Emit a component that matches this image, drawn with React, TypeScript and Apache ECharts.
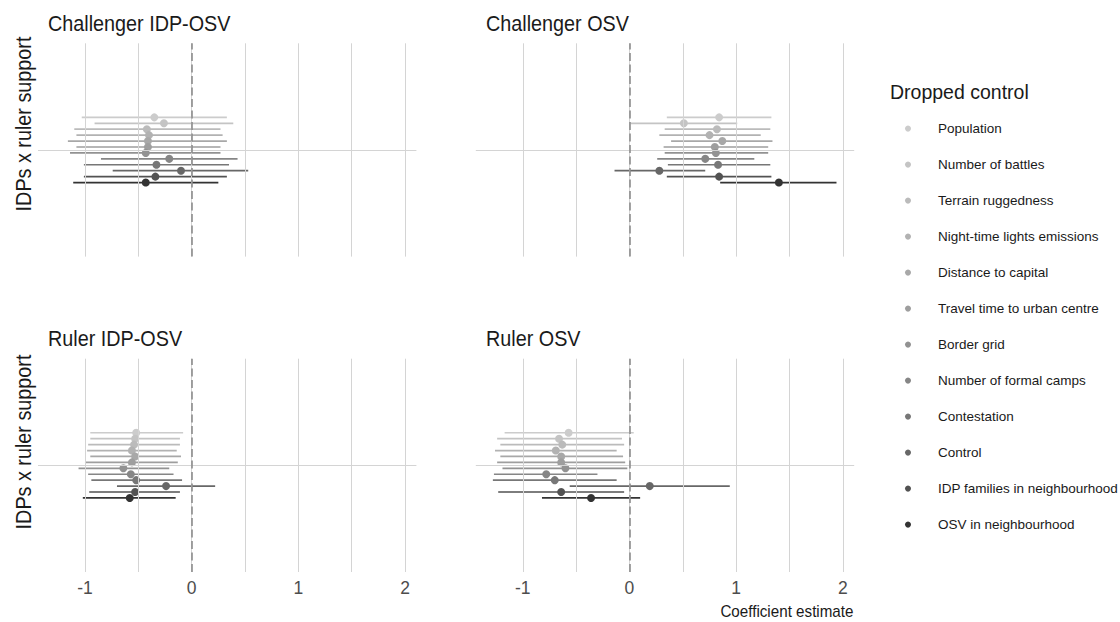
import React, { useEffect, useRef } from "react";
import * as echarts from "echarts";

// Dropped control variables, ordered top to bottom within each panel
const CONTROLS = [
  "Population",
  "Number of battles",
  "Terrain ruggedness",
  "Night-time lights emissions",
  "Distance to capital",
  "Travel time to urban centre",
  "Border grid",
  "Number of formal camps",
  "Contestation",
  "Control",
  "IDP families in neighbourhood",
  "OSV in neighbourhood",
];

// Grey ramp, light to dark
const GREYS = [
  "#cccccc", "#c4c4c4", "#bbbbbb", "#b2b2b2", "#a8a8a8", "#9e9e9e",
  "#929292", "#868686", "#777777", "#676767", "#525252", "#333333",
];

const PANEL_TITLES = ["Challenger IDP-OSV", "Challenger OSV", "Ruler IDP-OSV", "Ruler OSV"];
const Y_CATEGORY = "IDPs x ruler support";
const X_TITLE = "Coefficient estimate";
const LEGEND_TITLE = "Dropped control";

// Challenger IDP-OSV
const chIdpEst = [-0.35, -0.26, -0.42, -0.40, -0.41, -0.41, -0.43, -0.21, -0.33, -0.10, -0.34, -0.43];
const chIdpLo = [-1.03, -0.91, -1.10, -1.08, -1.16, -1.08, -1.14, -0.85, -1.01, -0.74, -1.01, -1.11];
const chIdpHi = [0.33, 0.39, 0.27, 0.29, 0.33, 0.27, 0.27, 0.43, 0.35, 0.53, 0.33, 0.25];

// Challenger OSV
const chOsvEst = [0.84, 0.51, 0.82, 0.75, 0.87, 0.80, 0.81, 0.71, 0.83, 0.28, 0.84, 1.40];
const chOsvLo = [0.35, 0.01, 0.33, 0.28, 0.39, 0.32, 0.33, 0.26, 0.36, -0.14, 0.35, 0.85];
const chOsvHi = [1.33, 1.01, 1.32, 1.23, 1.34, 1.30, 1.30, 1.17, 1.32, 0.71, 1.33, 1.94];

// Ruler IDP-OSV
const ruIdpEst = [-0.52, -0.53, -0.54, -0.56, -0.53, -0.56, -0.64, -0.57, -0.52, -0.24, -0.53, -0.58];
const ruIdpLo = [-0.95, -0.95, -0.97, -0.98, -0.95, -1.00, -1.06, -0.97, -0.94, -0.70, -0.96, -1.02];
const ruIdpHi = [-0.08, -0.11, -0.11, -0.14, -0.10, -0.13, -0.21, -0.17, -0.09, 0.22, -0.11, -0.15];

// Ruler OSV
const ruOsvEst = [-0.57, -0.66, -0.63, -0.69, -0.64, -0.64, -0.60, -0.78, -0.70, 0.19, -0.64, -0.36];
const ruOsvLo = [-1.17, -1.24, -1.21, -1.26, -1.21, -1.24, -1.19, -1.27, -1.28, -0.56, -1.23, -0.82];
const ruOsvHi = [0.04, -0.07, -0.05, -0.12, -0.06, -0.04, -0.02, -0.30, -0.12, 0.94, -0.05, 0.10];

const X_TICKS = [-1, 0, 1, 2];
const X_GRIDLINES = [-1, -0.5, 0, 0.5, 1, 1.5, 2];
const X_MIN = -1.44;
const X_MAX = 2.106;

const FONT = "'Liberation Sans', Arial, Helvetica, sans-serif";
const DODGE = 0.4;

const PANELS = [
  { est: chIdpEst, lo: chIdpLo, hi: chIdpHi },
  { est: chOsvEst, lo: chOsvLo, hi: chOsvHi },
  { est: ruIdpEst, lo: ruIdpLo, hi: ruIdpHi },
  { est: ruOsvEst, lo: ruOsvLo, hi: ruOsvHi },
];

const GRID_POS = [
  { left: 38, top: 43.3 },
  { left: 475.8, top: 43.3 },
  { left: 38, top: 358.7 },
  { left: 475.8, top: 358.7 },
];
const GRID_W = 378.4;
const GRID_H = 213.3;

function buildOption() {
  const n = CONTROLS.length;
  const rowY = (i: number) => 1 - ((i - (n - 1) / 2) * DODGE) / n;

  const pointSeries: any[] = [];
  const barSeries: any[] = [];
  const guideSeries: any[] = [];

  PANELS.forEach((p, gi) => {
    CONTROLS.forEach((name, i) => {
      const y = rowY(i);
      pointSeries.push({
        type: "scatter",
        name,
        xAxisIndex: gi,
        yAxisIndex: gi,
        data: [[p.est[i], y]],
        symbol: "circle",
        symbolSize: 8,
        itemStyle: { color: GREYS[i], opacity: 1 },
        z: 4,
        silent: true,
      });
      barSeries.push({
        type: "line",
        name,
        xAxisIndex: gi,
        yAxisIndex: gi,
        data: [[p.lo[i], y], [p.hi[i], y]],
        symbol: "none",
        showSymbol: false,
        lineStyle: { color: GREYS[i], width: 1.7 },
        itemStyle: { color: GREYS[i] },
        z: 3,
        silent: true,
      });
    });

    guideSeries.push({
      type: "line",
      xAxisIndex: gi,
      yAxisIndex: gi,
      data: [],
      z: 1,
      silent: true,
      markLine: {
        silent: true,
        symbol: "none",
        label: { show: false },
        animation: false,
        lineStyle: { color: "#d4d4d4", width: 1, type: "solid" },
        data: [
          ...X_GRIDLINES.map((v) => ({ xAxis: v })),
          { yAxis: 1 },
        ],
      },
    });
    guideSeries.push({
      type: "line",
      xAxisIndex: gi,
      yAxisIndex: gi,
      data: [],
      z: 2,
      silent: true,
      markLine: {
        silent: true,
        symbol: "none",
        label: { show: false },
        animation: false,
        lineStyle: { color: "#8c8c8c", width: 1.6, type: [8, 3.5] },
        data: [{ xAxis: 0 }],
      },
    });
  });

  const grid = GRID_POS.map((g) => ({ left: g.left, top: g.top, width: GRID_W, height: GRID_H }));

  const xAxis = GRID_POS.map((_, gi) => ({
    type: "value",
    gridIndex: gi,
    min: X_MIN,
    max: X_MAX,
    axisLine: { show: false },
    axisTick: { show: false },
    splitLine: { show: false },
    axisLabel: {
      show: gi >= 2,
      customValues: X_TICKS,
      fontFamily: FONT,
      fontSize: 17.5,
      color: "#4d4d4d",
      margin: 7,
    },
  }));

  const yAxis = GRID_POS.map((_, gi) => ({
    type: "value",
    gridIndex: gi,
    min: 0.4,
    max: 1.6,
    show: false,
    splitLine: { show: false },
  }));

  const textEl = (text: string, x: number, y: number, size: number, extra: any = {}) => ({
    type: "text",
    x,
    y,
    silent: true,
    ...extra,
    style: {
      text,
      fontFamily: FONT,
      fontSize: size,
      fill: "#1a1a1a",
      align: "left",
      verticalAlign: "middle",
      ...(extra.style || {}),
    },
  });

  const graphic: any[] = [
    textEl(PANEL_TITLES[0], 48, 23, 22, { scaleX: 0.9 }),
    textEl(PANEL_TITLES[1], 486, 23, 22, { scaleX: 0.9 }),
    textEl(PANEL_TITLES[2], 48, 338, 22, { scaleX: 0.9 }),
    textEl(PANEL_TITLES[3], 486, 338, 22, { scaleX: 0.9 }),
    textEl(Y_CATEGORY, 23, 124, 22, { rotation: Math.PI / 2, scaleX: 0.9, style: { align: "center" } }),
    textEl(Y_CATEGORY, 23, 442, 22, { rotation: Math.PI / 2, scaleX: 0.9, style: { align: "center" } }),
    textEl(LEGEND_TITLE, 890, 91.5, 19.5),
    textEl(X_TITLE, 853.5, 611, 16, { scaleX: 0.95, style: { align: "right" } }),
  ];

  return {
    animation: false,
    backgroundColor: "#ffffff",
    grid,
    xAxis,
    yAxis,
    legend: {
      orient: "vertical",
      left: 900,
      top: 115.6,
      itemWidth: 50,
      itemHeight: 6,
      itemGap: 20,
      icon: "circle",
      selectedMode: false,
      data: CONTROLS,
      textStyle: { fontFamily: FONT, fontSize: 13.5, color: "#1a1a1a", lineHeight: 16 },
    },
    graphic,
    series: [...pointSeries, ...barSeries, ...guideSeries],
  };
}

export default function App() {
  const ref = useRef<HTMLDivElement>(null);
  useEffect(() => {
    if (!ref.current) return;
    const chart = echarts.init(ref.current, undefined, { renderer: "svg" });
    chart.setOption(buildOption() as any);
    return () => chart.dispose();
  }, []);
  return (
    <div
      ref={ref}
      style={{ position: "fixed", left: 0, top: 0, width: 1120, height: 622, background: "#fff" }}
    />
  );
}
